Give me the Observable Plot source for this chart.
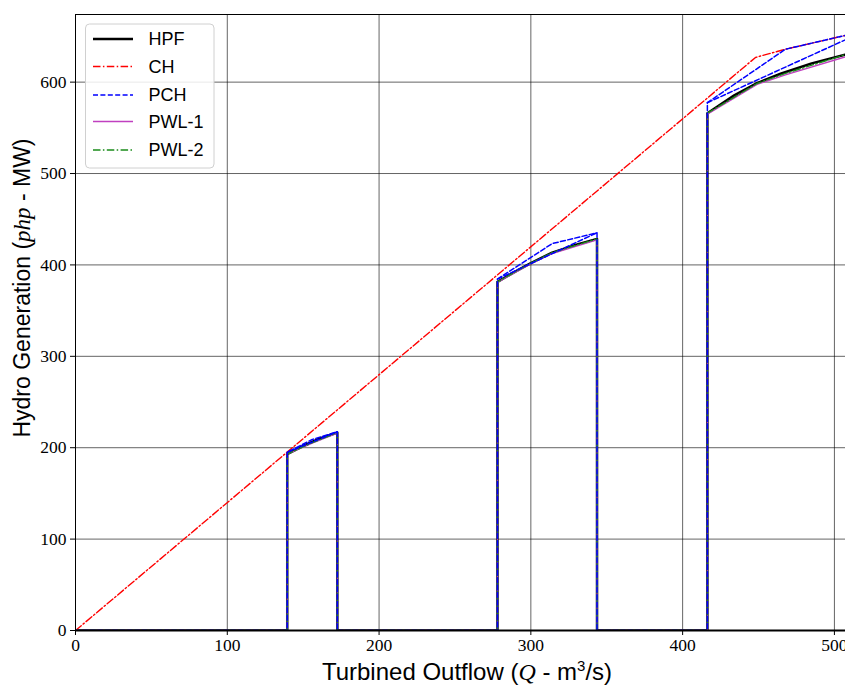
<!DOCTYPE html>
<html>
<head>
<meta charset="utf-8">
<script src="https://cdn.jsdelivr.net/npm/d3@7"></script>
<script src="https://cdn.jsdelivr.net/npm/@observablehq/plot@0.6"></script>
<style>
  html, body { margin: 0; padding: 0; background: #fff; }
  #chart svg { display: block; }
</style>
</head>
<body>
<div id="chart"></div>
<script>
// ---- data ----
const seriesNames = ["HPF", "CH", "PCH", "PWL-1", "PWL-2"];
const xTicks = [0, 100, 200, 300, 400, 500];
const yTicks = [0, 100, 200, 300, 400, 500, 600];

const hpfQ = [0, 139.5, 139.5, 150, 160, 172.5, 172.5, 278, 278, 290, 300, 314, 330, 343.6, 343.6, 416.3, 416.3, 434, 449, 465, 485, 507, 520];
const hpfP = [0, 0, 193, 202, 209.5, 216.5, 0, 0, 381.5, 393, 402, 413.5, 422, 428.5, 0, 0, 566, 585.5, 599, 609.5, 620.5, 630, 636];

const chQ = [0, 448, 467.7, 520];
const chP = [0, 627, 636, 656];

const pchQ = [0, 139.5, 139.5, 156, 172.5, 172.5, 278, 278, 314, 343.6, 343.6, 416.3, 416.3, 467.7, 520];
const pchP = [0, 0, 195, 209, 217.5, 0, 0, 384.5, 423.3, 435.2, 0, 0, 577.5, 636, 656];
// chords of the convex hull pieces
const pchChordQ = [[139.5, 172.5], [278, 343.6], [416.3, 520]];
const pchChordP = [[195, 217.5], [384.5, 435.2], [577.5, 656]];

const pwl1Q = [0, 139.5, 139.5, 156, 172.5, 172.5, 278, 278, 300, 314, 343.6, 343.6, 416.3, 416.3, 449, 467.7, 507, 520];
const pwl1P = [0, 0, 193, 205, 216, 0, 0, 381, 401.5, 412.5, 427.5, 0, 0, 565, 597.5, 608, 627.5, 633];

const pwl2Q = [0, 139.5, 139.5, 156, 172.5, 172.5, 278, 278, 300, 314, 343.6, 343.6, 416.3, 416.3, 449, 467.7, 507, 520];
const pwl2P = [0, 0, 193, 205.5, 216.5, 0, 0, 381.5, 402, 413.5, 428.5, 0, 0, 566, 598.5, 609.5, 630, 636];

// ---- build tables ----
const toRows = (qs, ps, z) => qs.map((q, i) => ({q, p: ps[i], z}));
const hpf = toRows(hpfQ, hpfP, "main");
const ch = toRows(chQ, chP, "main");
const pch = toRows(pchQ, pchP, "main").concat(
  ...pchChordQ.map((qs, k) => toRows(qs, pchChordP[k], "chord" + k))
);
const pwl1 = toRows(pwl1Q, pwl1P, "main");
const pwl2 = toRows(pwl2Q, pwl2P, "main");

const styles = {
  "HPF":   {stroke: "#000000", strokeWidth: 2.5, dash: null},
  "CH":    {stroke: "#ff0000", strokeWidth: 1.4, dash: "7.5,2.4,1.5,2.4"},
  "PCH":   {stroke: "#0000ff", strokeWidth: 1.5, dash: "5,2.4"},
  "PWL-1": {stroke: "#c040c0", strokeWidth: 1.4, dash: null},
  "PWL-2": {stroke: "#1a8c1a", strokeWidth: 1.4, dash: "7.5,2.4,1.5,2.4"}
};
const lineMark = (data, name) => Plot.line(data, {
  x: "q", y: "p", z: "z",
  stroke: styles[name].stroke,
  strokeWidth: styles[name].strokeWidth,
  strokeDasharray: styles[name].dash || undefined,
  strokeLinejoin: "round",
  curve: "linear",
  clip: true
});

const X_MAX = 507.3, Y_MAX = 674;

const svg = Plot.plot({
  width: 845,
  height: 686,
  marginLeft: 75,
  marginRight: 0,
  marginTop: 14,
  marginBottom: 56,
  style: {fontFamily: "'Liberation Serif', serif", fontSize: "17px", background: "#fff", overflow: "visible"},
  x: {domain: [0, X_MAX], label: null},
  y: {domain: [0, Y_MAX], label: null},
  marks: [
    Plot.gridX(xTicks, {stroke: "#000", strokeOpacity: 0.68, strokeWidth: 0.9}),
    Plot.gridY(yTicks, {stroke: "#000", strokeOpacity: 0.68, strokeWidth: 0.9}),
    Plot.axisX(xTicks, {tickSize: 5, tickPadding: 3, fontSize: 17.5, stroke: "#000", strokeWidth: 1, label: null}),
    Plot.axisY(yTicks, {tickSize: 5, tickPadding: 4, fontSize: 17.5, stroke: "#000", strokeWidth: 1, label: null}),
    lineMark(hpf, "HPF"),
    lineMark(ch, "CH"),
    lineMark(pwl1, "PWL-1"),
    lineMark(pwl2, "PWL-2"),
    lineMark(pch, "PCH"),
    Plot.ruleX([0], {stroke: "#000", strokeWidth: 1}),
    Plot.ruleY([0], {stroke: "#000", strokeWidth: 2}),
    Plot.ruleY([Y_MAX], {stroke: "#000", strokeWidth: 1})
  ]
});

// ---- axis labels (mixed fonts) ----
const s = d3.select(svg);
const sans = "'Liberation Sans', Arial, sans-serif";
const serif = "'Liberation Serif', serif";

const xl = s.append("text")
  .attr("x", 467).attr("y", 680)
  .attr("text-anchor", "middle")
  .attr("font-family", sans).attr("font-size", 24).attr("fill", "#000");
xl.append("tspan").text("Turbined Outflow (");
xl.append("tspan").attr("font-family", serif).attr("font-style", "italic").text("Q");
xl.append("tspan").text(" - m");
xl.append("tspan").attr("font-size", 15).attr("dy", -9).text("3");
xl.append("tspan").attr("dy", 9).text("/s)");

const yl = s.append("text")
  .attr("transform", "translate(30,288) rotate(-90)")
  .attr("text-anchor", "middle")
  .attr("font-family", sans).attr("font-size", 23).attr("fill", "#000");
yl.append("tspan").text("Hydro Generation (");
yl.append("tspan").attr("font-family", serif).attr("font-style", "italic").text("php");
yl.append("tspan").text(" - MW)");

// ---- legend ----
const lg = s.append("g").attr("transform", "translate(85.5,24)");
lg.append("rect").attr("width", 128.5).attr("height", 144).attr("rx", 4)
  .attr("fill", "#fff").attr("fill-opacity", 0.85).attr("stroke", "#d0d0d0").attr("stroke-width", 1);
const rowY = [15, 42.5, 71, 97.5, 126];
seriesNames.forEach((name, i) => {
  const st = styles[name];
  lg.append("line").attr("x1", 7.5).attr("x2", 47.5).attr("y1", rowY[i]).attr("y2", rowY[i])
    .attr("stroke", st.stroke).attr("stroke-width", name === "HPF" ? 2.5 : 1.5)
    .attr("stroke-dasharray", st.dash || null);
  lg.append("text").attr("x", 63).attr("y", rowY[i]).attr("dy", "0.36em")
    .attr("text-anchor", "start")
    .attr("font-family", sans).attr("font-size", 18).attr("fill", "#000").text(name);
});

document.getElementById("chart").appendChild(svg);
</script>
</body>
</html>
